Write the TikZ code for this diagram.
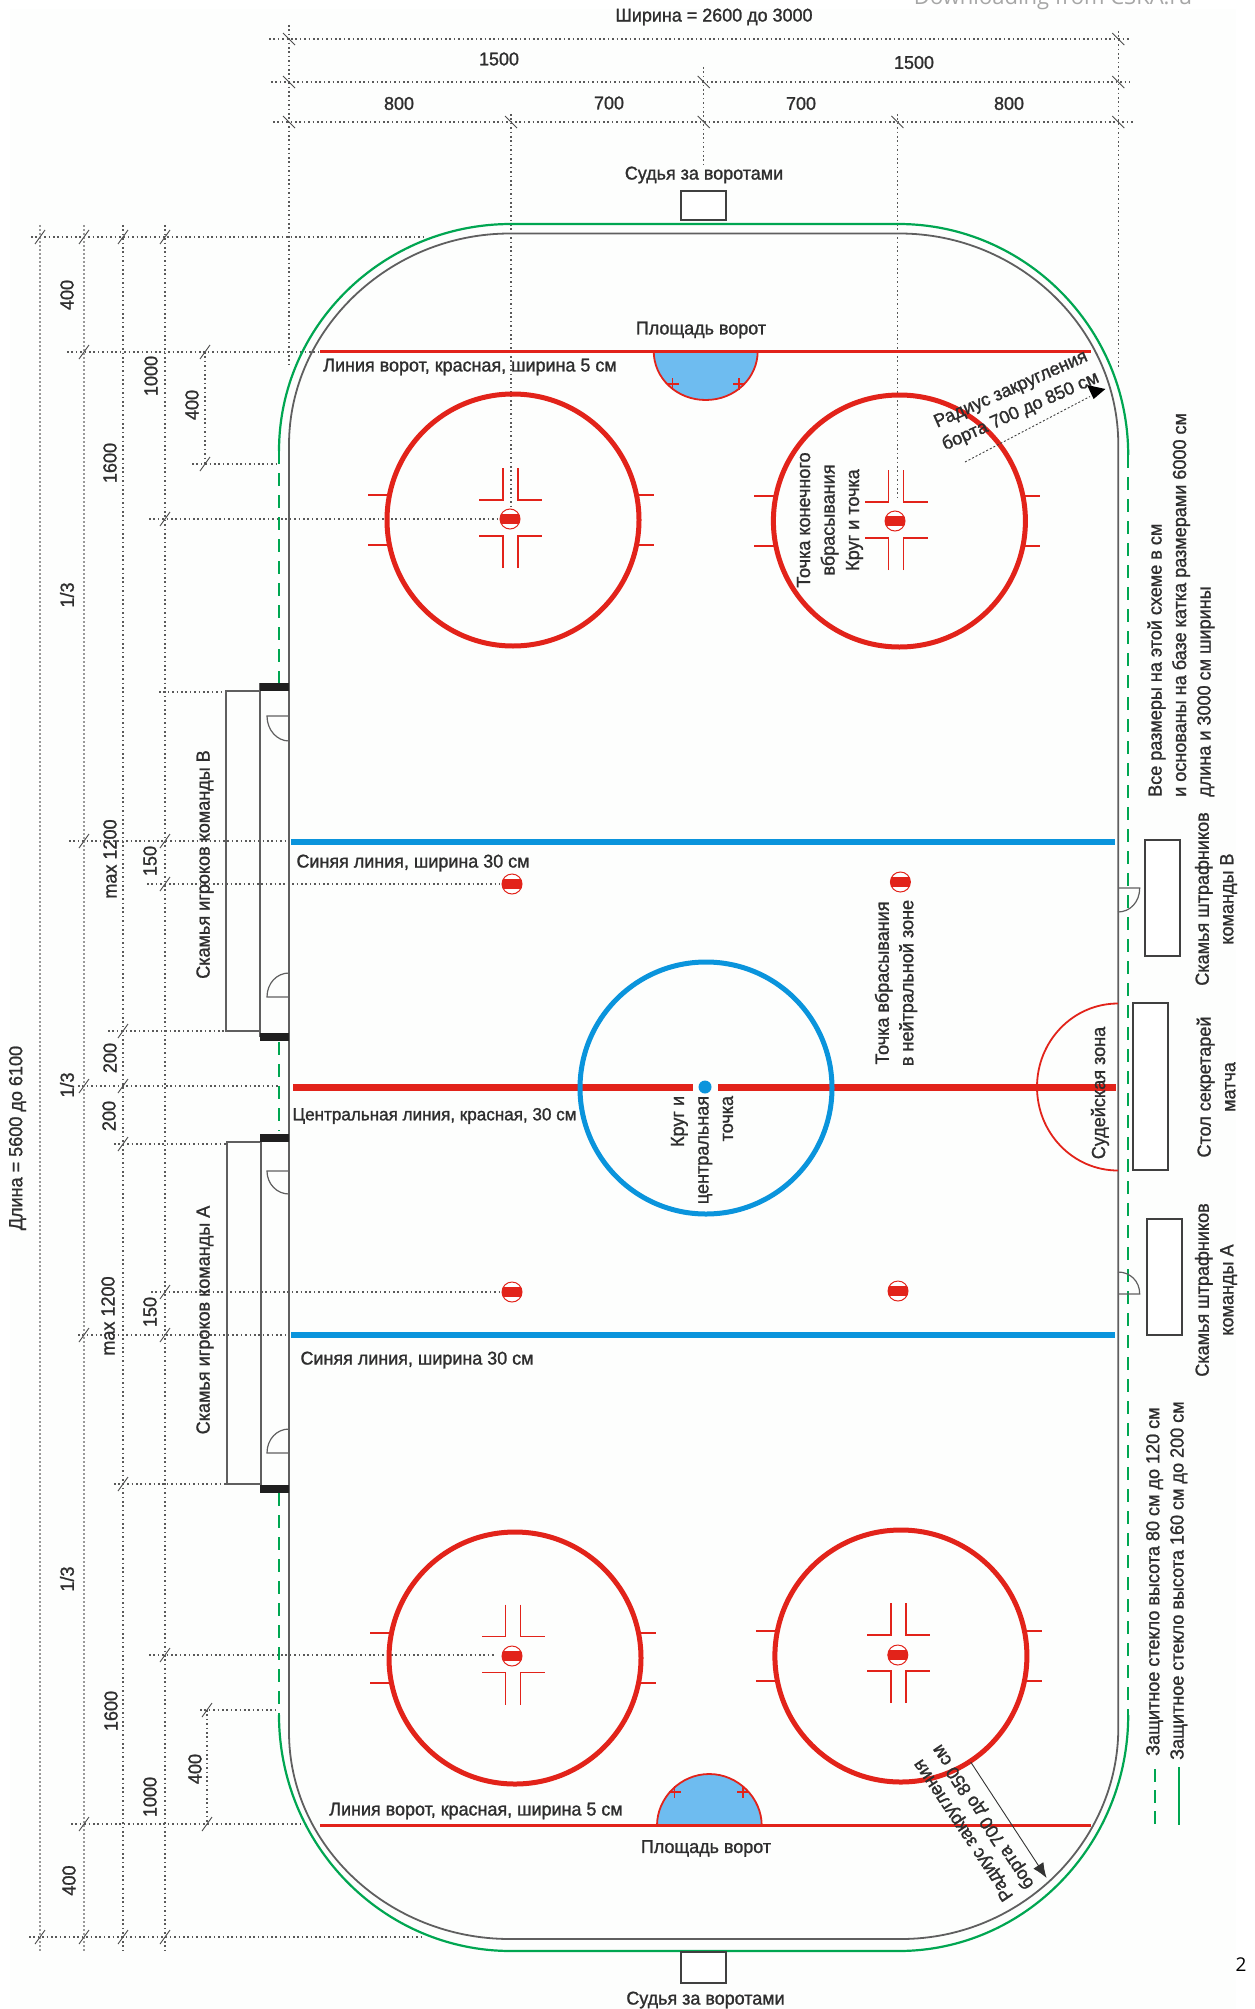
\documentclass[tikz,border=0pt]{standalone}
\usepackage{fontspec}
\setmainfont{Liberation Sans}
\newfontfamily\hf[FakeStretch=0.97,FakeBold=1.3]{Liberation Sans}
\newfontfamily\vf[FakeStretch=0.95,FakeBold=1.1]{Liberation Sans}
\newfontfamily\wf{Open Sans}
\usetikzlibrary{arrows.meta}
\definecolor{txtc}{HTML}{2E2E2E}
\definecolor{rr}{HTML}{E2231A}
\definecolor{bb}{HTML}{0A94DC}
\definecolor{gg}{HTML}{00A651}
\definecolor{cc}{HTML}{6EBCF0}
\definecolor{gr}{HTML}{5F5F5F}
\definecolor{bgc}{HTML}{FDFEFD}
\tikzset{
  htxt/.style={font=\hf\fontsize{18.5}{24}\selectfont,text=txtc,inner sep=0pt,align=center},
  vtxt/.style={font=\vf\fontsize{19}{24.5}\selectfont,text=txtc,inner sep=0pt,rotate=90,align=center},
  dim/.style={line width=1.1pt,color=black!65,dash pattern=on 1.6pt off 2.8pt},
  dimw/.style={line width=2.2pt,color=black!40,dash pattern=on 2pt off 2pt},
  tickh/.style={line width=0.9pt,color=black!70},
  rink/.style={line width=1.8pt,color=gr},
  glass/.style={line width=2.2pt,color=gg},
  glassd/.style={line width=2.2pt,color=gg,dash pattern=on 13pt off 9pt},
  fo/.style={line width=5pt,color=rr},
  thinr/.style={line width=1.8pt,color=rr},
  box/.style={line width=2pt,color=black!75,fill=white},
  door/.style={line width=1.2pt,color=gr},
  bench/.style={line width=1.6pt,color=gr}
}
% dot, at x, y
\newcommand{\fdot}[2]{%
  \draw[line width=1pt,rr,fill=white] (#1,#2) circle[radius=10pt];
  \begin{scope}
    \clip (#1,#2) circle[radius=10pt];
    \fill[rr] (#1-11,#2-5) rectangle (#1+11,#2+5);
  \end{scope}}
% faceoff circle: cx, cy, cross x, cross y
\newcommand{\focirc}[4]{%
  \draw[fo] (#1,#2) circle[radius=126pt];
  \foreach \sy in {-1,1}{
    \draw[thinr] (#1-145,#2+\sy*25) -- (#1-124,#2+\sy*25);
    \draw[thinr] (#1+124,#2+\sy*25) -- (#1+141,#2+\sy*25);
    \foreach \sx in {-1,1}{
      \draw[thinr] (#3+\sx*7.5,#4+\sy*50) -- (#3+\sx*7.5,#4+\sy*18) -- (#3+\sx*31.5,#4+\sy*18);
    }
  }}
\begin{document}
\begin{tikzpicture}[x=1pt,y=-1pt]
\useasboundingbox (0,0) rectangle (1254,2009);
\fill[bgc] (10,9) rectangle (1236,2009);

% --- dimension lines
\foreach \xa/\xb/\yy in {269/1131/39,271/1130/82,273/1133/122,31/424/237,67/318/352,192/279/464,149/500/519,159/226/692,69/289/841,147/500/884,108/226/1031,78/279/1086,114/226/1144,151/500/1292,78/289/1335,114/226/1484,149/496/1655,200/279/1710,71/300/1824,29/424/1937}
  \draw[dim] (\xa,\yy) -- (\xb,\yy);
\foreach \xx/\ya/\yb in {289/25/364,1118.3/31/368,703.7/67/167,511/114/513,897.4/114/498,123/225/1952,165/225/1952,205/352/464,207/1710/1824}
  \draw[dim] (\xx,\ya) -- (\xx,\yb);
\foreach \xx in {40,84}
  \draw[dimw] (\xx,225) -- (\xx,1952);
\foreach \xx/\yy in {289/39,289/82,289/122,511/122,703.7/82,703.7/122,897.4/122,1118.3/39,1118.3/82,1118.3/122}
  \draw[tickh] (\xx-6,\yy-6) -- (\xx+6,\yy+6);
\foreach \xx/\yy in {40/237,84/237,123/237,165/237,84/352,205/352,205/464,165/519,84/841,165/841,165/884,123/1031,84/1086,123/1086,123/1144,165/1292,84/1335,165/1335,123/1484,165/1655,207/1710,84/1824,207/1824,40/1937,84/1937,123/1937,165/1937}
  \draw[tickh] (\xx-5,\yy+7) -- (\xx+5,\yy-7);

% --- rink and glass
\draw[rink] (289,445) .. controls (289,330) and (389,233.5) .. (510,233.5) -- (899.5,233.5)
  .. controls (1020,233.5) and (1118.3,330) .. (1118.3,445) -- (1118.3,1728)
  .. controls (1118.3,1842) and (1021,1939) .. (901,1939) -- (510,1939)
  .. controls (389,1939) and (289,1846) .. (289,1732) -- cycle;
\draw[glass] (279,451) .. controls (279,326) and (383,224) .. (511,224) -- (898.5,224)
  .. controls (1025,224) and (1128.2,328) .. (1128.2,455);
\draw[glass] (279,1715) .. controls (279,1845) and (383,1951) .. (511,1951) -- (898.5,1951)
  .. controls (1025,1951) and (1128.2,1845) .. (1128.2,1715);
\draw[glassd] (279,451) -- (279,683);
\draw[glassd] (279,1042) -- (279,1131);
\draw[glassd] (279,1493) -- (279,1715);
\draw[glassd] (1128.2,455) -- (1128.2,1715);

% --- lines
\draw[line width=6pt,bb] (291,841.5) -- (1115,841.5);
\draw[line width=6pt,bb] (291,1335) -- (1115,1335);
\draw[line width=7pt,rr] (293,1087.5) -- (692.8,1087.5);
\draw[line width=7pt,rr] (718,1087.5) -- (1116.3,1087.5);
\draw[line width=5pt,bb] (706,1088) circle[radius=126pt];
\fill[bb] (705,1087) circle[radius=6.5pt];
\draw[line width=1.8pt,rr] (1118,1003.5) .. controls (1073,1003.5) and (1037,1041) .. (1037,1087) .. controls (1037,1133) and (1073,1170.5) .. (1118,1170.5);

% --- goal lines and creases
\draw[thinr,fill=cc] (653.7,351) .. controls (653.7,378) and (676.5,400) .. (705.7,400) .. controls (735,400) and (757.7,378) .. (757.7,351);
\draw[thinr,fill=cc] (657,1825.5) .. controls (657,1798) and (680.4,1774) .. (709.2,1774) .. controls (738,1774) and (761.7,1798) .. (761.7,1825.5);
\draw[line width=3pt,rr] (320,351) -- (1090.6,351);
\draw[line width=3pt,rr] (320,1825.5) -- (1090.6,1825.5);
\foreach \xx/\yy in {672.5/384,739/384,674.5/1792,743/1792}{
  \draw[line width=1.3pt,rr] (\xx-6,\yy) -- (\xx+6,\yy);
  \draw[line width=1.3pt,rr] (\xx,\yy-6) -- (\xx,\yy+6);
}

% --- faceoff circles
\focirc{513}{520}{510.5}{518}
\focirc{899.4}{521}{896}{520}
\focirc{515}{1658}{513}{1654.5}
\focirc{900.9}{1656}{898.4}{1653}
\fdot{510}{519}
\fdot{895}{521}
\fdot{512}{1656}
\fdot{897.8}{1655}
\fdot{512}{884}
\fdot{900.4}{882}
\fdot{512}{1292}
\fdot{898}{1291}

% --- benches
\draw[bench] (260,691) -- (226,691) -- (226,1031) -- (260,1031);
\draw[bench] (260,683) -- (260,1037);
\draw[bench] (261,1142) -- (227,1142) -- (227,1484) -- (261,1484);
\draw[bench] (261,1138) -- (261,1489);
\foreach \ya in {683,1033,1134,1485}
  \fill[black!88] (260,\ya) rectangle (289,\ya+8);
\draw[door] (289,716) -- (267,716) .. controls (267,730) and (277,741) .. (289,741);
\draw[door] (289,997) -- (267,997) .. controls (267,983) and (277,973) .. (289,973);
\draw[door] (289,1171) -- (267,1171) .. controls (267,1184) and (277,1194) .. (289,1194);
\draw[door] (289,1453) -- (267,1453) .. controls (267,1439) and (277,1429) .. (289,1429);
\draw[door] (1118,888) -- (1139.7,888) .. controls (1139.7,902) and (1130,912) .. (1118,912);
\draw[door] (1118,1294) -- (1139.7,1294) .. controls (1139.7,1281) and (1130,1272) .. (1118,1272);

% --- boxes
\draw[box] (681.4,191) rectangle (726,220.5);
\draw[box] (681.4,1952) rectangle (726,1983);
\draw[box] (1145,840) rectangle (1180,955.5);
\draw[box] (1133.4,1003) rectangle (1168,1170);
\draw[box] (1147,1219) rectangle (1182,1335);

% --- radius arrows
\coordinate (ra1) at (965,462);
\coordinate (ra2) at (1105.4,389);
\coordinate (rb1) at (970.7,1762);
\coordinate (rb2) at (1046.6,1878);
\draw[line width=0.9pt,black!75,dash pattern=on 2pt off 2pt] (ra1) -- (1090,396.5);
\fill[black] (ra2) -- (1087,385) -- (1093.6,399) -- cycle;
\draw[line width=0.9pt,black!80,-{Latex[length=15pt,width=12pt]}] (rb1) -- (rb2);

% --- legend
\draw[glassd,dash pattern=on 13pt off 8pt] (1154.6,1769) -- (1154.6,1824);
\draw[glass] (1178.8,1767) -- (1178.8,1825);

% --- horizontal labels
\node[htxt] (tw) at (714,17) {Ширина = 2600 до 3000};
\node[htxt] (t1) at (499,59) {1500};
\node[htxt] (t2) at (914,62.5) {1500};
\node[htxt] (t3) at (399,103.5) {800};
\node[htxt] (t4) at (609,103) {700};
\node[htxt] (t5) at (801,103.5) {700};
\node[htxt] (t6) at (1009,103.5) {800};
\node[htxt] (ref1) at (704,175) {Судья за воротами};
\node[htxt] (ref2) at (705.5,2000) {Судья за воротами};
\node[htxt] (cr1) at (701,330) {Площадь ворот};
\node[htxt] (cr2) at (706,1848.5) {Площадь ворот};
\node[htxt] (gl1) at (470,367) {Линия ворот, красная, ширина 5 см};
\node[htxt] (gl2) at (476,1811) {Линия ворот, красная, ширина 5 см};
\node[htxt] (bl1) at (413,863) {Синяя линия, ширина 30 см};
\node[htxt] (bl2) at (417,1360) {Синяя линия, ширина 30 см};
\node[htxt,font=\hf\fontsize{17.6}{24}\selectfont] (cl) at (434.5,1116) {Центральная линия, красная, 30 см};
\node[htxt,rotate=24] (r1) at (1016,401) {Радиус закругления\\борта 700 до 850 см};
\node[htxt,rotate=123.7] (r2) at (974,1823) {Радиус закругления\\борта 700 до 850 см};

% --- vertical labels
\node[vtxt] (d1) at (67,295) {400};
\node[vtxt] (d2) at (151,376) {1000};
\node[vtxt] (d3) at (192,405) {400};
\node[vtxt] (d4) at (110,463) {1600};
\node[vtxt] (d5) at (67,595) {1/3};
\node[vtxt] (d6) at (110,859) {max 1200};
\node[vtxt] (d7) at (150,861) {150};
\node[vtxt] (d8) at (110,1058) {200};
\node[vtxt] (d9) at (67,1085) {1/3};
\node[vtxt] (d10) at (109,1116) {200};
\node[vtxt] (d11) at (108,1316) {max 1200};
\node[vtxt] (d12) at (150,1312) {150};
\node[vtxt] (d13) at (67,1579) {1/3};
\node[vtxt] (d14) at (111,1711) {1600};
\node[vtxt] (d15) at (195,1769) {400};
\node[vtxt] (d16) at (150,1797) {1000};
\node[vtxt] (d17) at (69,1880.5) {400};
\node[vtxt] (len) at (17.5,1138) {Длина = 5600 до 6100};
\node[vtxt] (bnb) at (205,864.5) {Скамья игроков команды B};
\node[vtxt] (bna) at (205,1320) {Скамья игроков команды A};
\node[vtxt] (fc) at (830,520) {Точка конечного\\вбрасывания\\Круг и точка};
\node[vtxt,anchor=west,align=left] (note) at (1181,797) {Все размеры на этой схеме в см\\и основаны на базе катка размерами 6000 см\\длина и 3000 см ширины};
\node[vtxt] (pb) at (1216,899) {Скамья штрафников\\команды B};
\node[vtxt] (tbl) at (1216,1087) {Стол секретарей\\матча};
\node[vtxt] (pa) at (1216,1290) {Скамья штрафников\\команды A};
\node[vtxt] (nz) at (896,983) {Точка вбрасывания\\в нейтральной зоне};
\node[vtxt] (rz) at (1100,1093) {Судейская зона};
\node[vtxt,align=right] (cc) at (702,1150) {Круг и\\центральная\\точка};
\node[vtxt,anchor=west] (lg1) at (1154.6,1756) {Защитное стекло высота 80 см до 120 см};
\node[vtxt,anchor=west] (lg2) at (1178.8,1760) {Защитное стекло высота 160 см до 200 см};

% --- page remnants
\node[font=\wf\fontsize{22}{26}\selectfont,text=black!35,inner sep=0pt,anchor=base] (wm) at (1053,5) {Downloading from CSKA.ru};
\node[font=\wf\fontsize{19}{22}\selectfont,text=black,inner sep=0pt] (pn) at (1241,1965) {2};
\end{tikzpicture}
\end{document}
